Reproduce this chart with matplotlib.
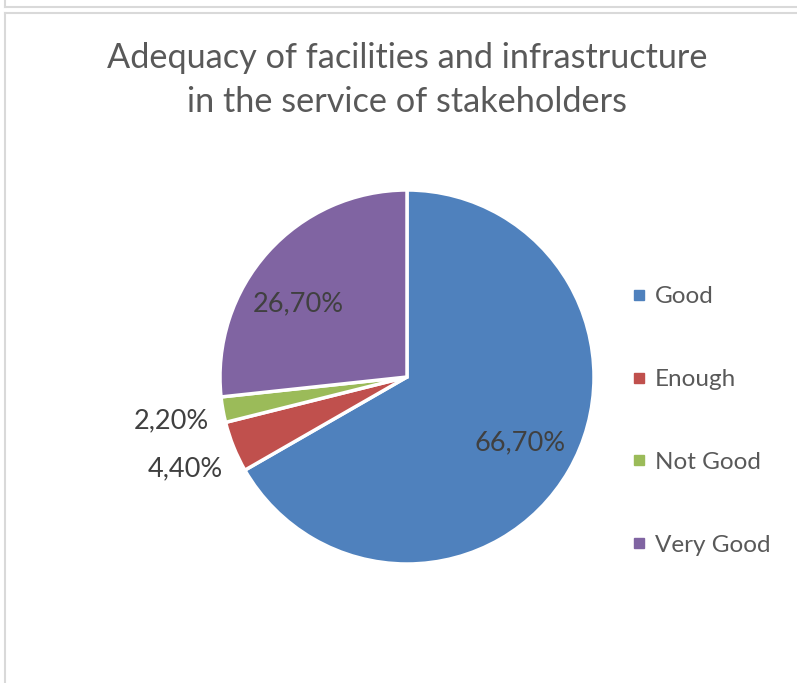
import numpy as np
import matplotlib.pyplot as plt
from matplotlib.lines import Line2D

# Data
categories = ['Good', 'Enough', 'Not Good', 'Very Good']
values = [66.7, 4.4, 2.2, 26.7]
colors = ['#4F81BD', '#C0504D', '#9BBB59', '#8064A2']
title = 'Adequacy of facilities and infrastructure\nin the service of stakeholders'

plt.rcParams['font.family'] = ['Lato', 'DejaVu Sans']

W, H = 797, 683
fig = plt.figure(figsize=(W / 100, H / 100), dpi=100)

# chart frame (grey borders like the spreadsheet screenshot)
fc = '#D9D9D9'
fig.add_artist(Line2D([5 / W, 1], [1 - 7 / H, 1 - 7 / H], color=fc, lw=1.5))
fig.add_artist(Line2D([5 / W, 5 / W], [1, 1 - 7 / H], color=fc, lw=1.5))
fig.add_artist(Line2D([5 / W, 1], [1 - 13 / H, 1 - 13 / H], color=fc, lw=1.5))
fig.add_artist(Line2D([5 / W, 5 / W], [0, 1 - 13 / H], color=fc, lw=1.5))

# pie axes: centre (407, 377) px, radius 187 px
cx, cy, r = 407, 377, 187
ax = fig.add_axes([(cx - r) / W, (H - cy - r) / H, 2 * r / W, 2 * r / H])

wedges, texts, autotexts = ax.pie(
    values, colors=colors, startangle=90, counterclock=False,
    autopct=lambda p: f'{p:.2f}'.replace('.', ',') + '%',
    pctdistance=0.7,
    wedgeprops=dict(edgecolor='white', linewidth=2.5),
    textprops=dict(fontsize=19.5, color='#404040'))
ax.set_xlim(-1, 1)
ax.set_ylim(-1, 1)

# label placement like Excel: small slices outside, big one nudged
for w, t, v in zip(wedges, autotexts, values):
    mid = (w.theta1 + w.theta2) / 2
    if v < 10:
        ang = np.deg2rad(mid)
        t.set_position((1.28 * np.cos(ang), 1.28 * np.sin(ang) - 0.01))
    elif v < 50:
        ang = np.deg2rad(mid + 8)
        t.set_position((0.7 * np.cos(ang), 0.7 * np.sin(ang)))

fig.text(407 / W, 1 - 80 / H, title, ha='center', va='center',
         fontsize=24.7, color='#595959', linespacing=1.5)

handles = [Line2D([], [], marker='s', ls='', color=c, markersize=7.5) for c in colors]
leg = fig.legend(handles, categories, loc='center left',
                 bbox_to_anchor=(620 / W, 1 - 421 / H), frameon=False,
                 fontsize=17.5, labelspacing=2.55, handlelength=0.6,
                 handletextpad=0.35, borderpad=0)
for t in leg.get_texts():
    t.set_color('#595959')

fig.savefig('out.png', dpi=100)
